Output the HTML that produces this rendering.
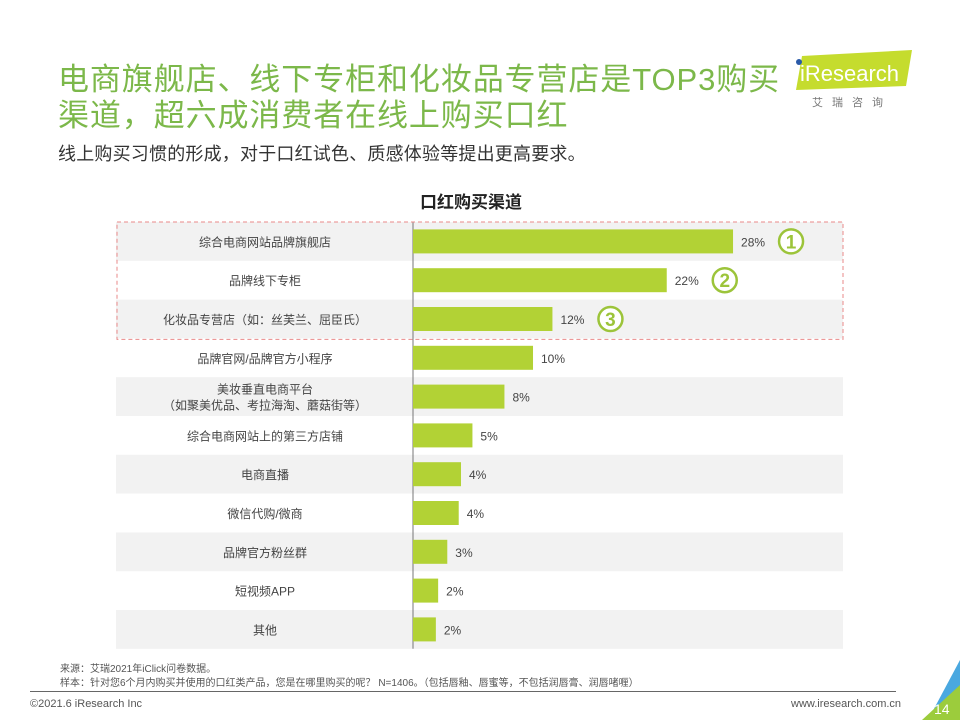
<!DOCTYPE html>
<html><head><meta charset="utf-8">
<style>
body{margin:0;width:960px;height:720px;background:#fff;overflow:hidden;font-family:"Liberation Sans","Noto Sans CJK SC",sans-serif;position:relative}
.t{position:absolute;white-space:nowrap}
</style></head><body>
<div class="t" style="left:58px;top:54px;font-size:31px;color:#7cb84a;letter-spacing:0.9px">电商旗舰店、线下专柜和化妆品专营店是TOP3购买</div>
<div class="t" style="left:58px;top:90px;font-size:31px;color:#7cb84a;letter-spacing:0.9px">渠道，超六成消费者在线上购买口红</div>
<div class="t" style="left:58px;top:140px;font-size:18px;color:#333;letter-spacing:0.2px">线上购买习惯的形成，对于口红试色、质感体验等提出更高要求。</div>
<svg style="position:absolute;left:790px;top:48px" width="125" height="65">
<polygon points="12,8 122,2 116,38 6,42" fill="#c5dc2e"/>
<circle cx="9" cy="14" r="3" fill="#2a5aa8"/>
<text x="10" y="33" font-size="22" fill="#fff" font-family="Liberation Sans, sans-serif">iResearch</text>
<text x="22" y="58" font-size="11" fill="#777" letter-spacing="9" font-family="Liberation Sans, Noto Sans CJK SC, sans-serif">艾瑞咨询</text>
</svg>
<div class="t" style="left:420px;top:188px;font-size:17px;font-weight:bold;color:#222">口红购买渠道</div>
<svg id="chart" style="position:absolute;left:0;top:0" width="960" height="720"></svg>
<div class="t" style="left:60px;top:660px;font-size:10px;color:#555">来源：艾瑞2021年iClick问卷数据。</div>
<div class="t" style="left:60px;top:674px;font-size:10px;color:#555">样本：针对您6个月内购买并使用的口红类产品，您是在哪里购买的呢？ N=1406。（包括唇釉、唇蜜等，不包括润唇膏、润唇啫喱）</div>
<div style="position:absolute;left:30px;top:691px;width:866px;height:1px;background:#666"></div>
<div class="t" style="left:30px;top:698px;font-size:11px;color:#555">©2021.6 iResearch Inc</div>
<div class="t" style="left:791px;top:698px;font-size:11px;color:#555">www.iresearch.com.cn</div>
<svg style="position:absolute;left:910px;top:660px" width="50" height="60">
<polygon points="50,0 50,60 18,60" fill="#4aa8e0"/>
<polygon points="50,25 50,60 12,60" fill="#9ccc3c"/>
<text x="24" y="54" font-size="14" fill="#fff" font-family="Liberation Sans, sans-serif">14</text>
</svg>
<script>
const categories=["综合电商网站品牌旗舰店","品牌线下专柜","化妆品专营店（如：丝芙兰、屈臣氏）","品牌官网/品牌官方小程序","美妆垂直电商平台|（如聚美优品、考拉海淘、蘑菇街等）","综合电商网站上的第三方店铺","电商直播","微信代购/微商","品牌官方粉丝群","短视频APP","其他"];
const values=[28,22.2,12.2,10.5,8.0,5.2,4.2,4.0,3.0,2.2,2.0];
const valueLabels=["28%","22%","12%","10%","8%","5%","4%","4%","3%","2%","2%"];
const ranks=[1,2,3];
const NS="http://www.w3.org/2000/svg";
const svg=document.getElementById('chart');
const x0=413, pxPer=11.43, top0=222, rowH=38.8, barH=24;
const xs=v=>x0+v*pxPer;
const yc=i=>top0+rowH*i+rowH/2;
function mk(t,a){const e=document.createElementNS(NS,t);for(const k in a)e.setAttribute(k,a[k]);svg.appendChild(e);return e;}
categories.forEach((c,i)=>{
 if(i%2===0){const r=mk('rect',{x:116,y:top0+rowH*i,width:727,height:rowH,fill:'#f2f2f2'});
 
 }
});
const ax=mk('line',{x1:x0,y1:top0,x2:x0,y2:top0+rowH*categories.length,stroke:'#777','stroke-width':1});


categories.forEach((c,i)=>{
 const parts=c.split('|');
 parts.forEach((p,j)=>{
  const t=mk('text',{x:265,y:yc(i)+5+(j-(parts.length-1)/2)*16,'text-anchor':'middle','font-size':12,fill:'#444'});
  t.textContent=p;
  
  
 });
 const b=mk('rect',{x:x0,y:yc(i)-barH/2,width:xs(values[i])-x0,height:barH,fill:'#b2d235'});
 
 
 const l=mk('text',{x:xs(values[i])+8,y:yc(i)+5,'font-size':12,fill:'#444'});
 l.textContent=valueLabels[i];
 
 
});
ranks.forEach((r,i)=>{
 const cx=xs(values[i])+58;
 const c=mk('circle',{cx:cx,cy:yc(i),r:12,fill:'#fff',stroke:'#9cc43a','stroke-width':2.5});
 
 
 const t=mk('text',{x:cx,y:yc(i)+7,'text-anchor':'middle','font-size':19,'font-weight':'bold',fill:'#9cc43a'});
 t.textContent=r;
 
 
});
const box=mk('rect',{x:117,y:top0,width:726,height:rowH*3+1,fill:'none',stroke:'#e98a8a','stroke-dasharray':'4,3','stroke-width':1});


</script>
</body></html>
